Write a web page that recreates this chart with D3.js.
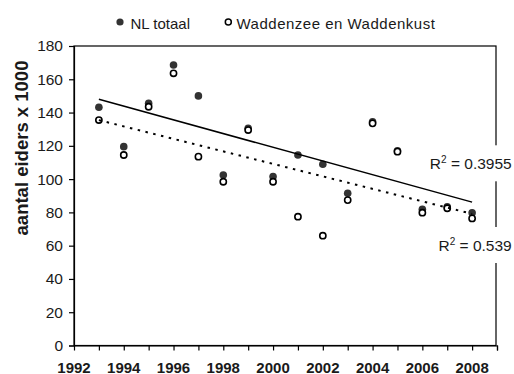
<!DOCTYPE html>
<html>
<head>
<meta charset="utf-8">
<script src="https://cdn.jsdelivr.net/npm/d3@7/dist/d3.min.js"></script>
<style>
  html, body { margin: 0; padding: 0; background: #fff; }
  svg { display: block; font-family: "Liberation Sans", Arial, sans-serif; }
</style>
</head>
<body>
<svg id="chart" width="514" height="374"></svg>
<script>
// Eider counts (x 1000), yearly
const years = [1993, 1994, 1995, 1996, 1997, 1998, 1999, 2000, 2001, 2002, 2003, 2004, 2005, 2006, 2007, 2008];
const nlTotaal = [143.2, 119.5, 145.6, 168.6, 150.0, 102.5, 130.5, 101.5, 114.5, 108.9, 91.5, 134.5, 117.0, 81.9, 83.4, 79.8];
const waddenzee = [135.5, 114.5, 143.5, 163.6, 113.5, 98.4, 129.5, 98.4, 77.4, 66.0, 87.4, 133.5, 116.5, 79.8, 82.5, 76.4];
const seriesNames = ["NL totaal", "Waddenzee en Waddenkust"];
const yTicks = [0, 20, 40, 60, 80, 100, 120, 140, 160, 180];
const xTickLabels = [1992, 1994, 1996, 1998, 2000, 2002, 2004, 2006, 2008];
const xMinorTicks = [1993, 1994, 1995, 1996, 1997, 1998, 1999, 2000, 2001, 2002, 2003, 2004, 2005, 2006, 2007, 2008, 2009];
const r2Labels = ["0.3955", "0.539"];
const yTitle = "aantal eiders x 1000";

const svg = d3.select("#chart");
const plot = { left: 74, right: 497, top: 46, bottom: 345.5 };

const x = d3.scaleLinear().domain([1992, 2009]).range([plot.left, plot.right]);
const y = d3.scaleLinear().domain([0, 180]).range([plot.bottom, plot.top]);

const textColor = "#1a1a1a";

// Plot area frame
svg.append("rect")
  .attr("x", plot.left).attr("y", plot.top)
  .attr("width", plot.right - plot.left - 1).attr("height", plot.bottom - plot.top)
  .attr("fill", "none").attr("stroke", "#000").attr("stroke-width", 1.2);

// Y axis
const yAxis = d3.axisLeft(y).tickValues(yTicks).tickSize(5).tickPadding(6);
const gy = svg.append("g").attr("transform", `translate(${plot.left},0)`).call(yAxis);
gy.select(".domain").attr("stroke", "#000").attr("stroke-width", 1.2);
gy.selectAll(".tick line").attr("stroke", "#000").attr("stroke-width", 1.2);
gy.selectAll(".tick text")
  .attr("fill", textColor)
  .style("font-size", "15.5px")
  .style("font-family", "Liberation Sans, Arial, sans-serif");

// X axis: minor tick at each year, bold labels on even years
const xAxisTicks = d3.axisBottom(x).tickValues(xMinorTicks).tickSize(5).tickFormat("");
const gx = svg.append("g").attr("transform", `translate(0,${plot.bottom})`).call(xAxisTicks);
gx.select(".domain").attr("stroke", "#000").attr("stroke-width", 1.2);
gx.selectAll(".tick line").attr("stroke", "#000").attr("stroke-width", 1.2);

svg.append("g").selectAll("text")
  .data(xTickLabels)
  .join("text")
  .attr("x", d => x(d))
  .attr("y", 372.5)
  .attr("text-anchor", "middle")
  .attr("fill", textColor)
  .style("font-size", "15px")
  .style("font-weight", "bold")
  .text(d => d);

// Y title
svg.append("text")
  .attr("transform", "translate(28,148) rotate(-90)")
  .attr("text-anchor", "middle")
  .attr("fill", textColor)
  .style("font-size", "18.5px")
  .style("font-weight", "bold")
  .text(yTitle);

// Least-squares trend line
function linearFit(xs, ys) {
  const mx = d3.mean(xs), my = d3.mean(ys);
  const sxy = d3.sum(xs, (xv, i) => (xv - mx) * (ys[i] - my));
  const sxx = d3.sum(xs, xv => (xv - mx) * (xv - mx));
  const slope = sxy / sxx;
  return xv => my + slope * (xv - mx);
}
const fitNL = linearFit(years, nlTotaal);
const fitWad = linearFit(years, waddenzee);
const xEnds = d3.extent(years);
const line = d3.line().x(d => x(d[0])).y(d => y(d[1]));

// Markers
svg.append("g").selectAll("circle")
  .data(years.map((yr, i) => [yr, nlTotaal[i]]))
  .join("circle")
  .attr("cx", d => x(d[0])).attr("cy", d => y(d[1]))
  .attr("r", 3.8)
  .attr("fill", "#333");

svg.append("g").selectAll("circle")
  .data(years.map((yr, i) => [yr, waddenzee[i]]))
  .join("circle")
  .attr("cx", d => x(d[0])).attr("cy", d => y(d[1]))
  .attr("r", 3.1)
  .attr("fill", "#fff")
  .attr("stroke", "#000")
  .attr("stroke-width", 1.6);

// Trend lines
svg.append("path")
  .datum(xEnds.map(v => [v, fitNL(v)]))
  .attr("d", line)
  .attr("fill", "none").attr("stroke", "#000").attr("stroke-width", 1.5);

svg.append("path")
  .datum(xEnds.map(v => [v, fitWad(v)]))
  .attr("d", line)
  .attr("fill", "none").attr("stroke", "#000").attr("stroke-width", 2)
  .attr("stroke-dasharray", "2.5,5.5");

// R² labels with white background boxes
const r2Pos = [{ xr: 511.7, base: 169.3 }, { xr: 511.7, base: 251 }];
r2Labels.forEach((val, i) => {
  const g = svg.append("g");
  const bg = g.append("rect").attr("fill", "#fff");
  const t = g.append("text")
    .attr("x", r2Pos[i].xr).attr("y", r2Pos[i].base)
    .attr("text-anchor", "end")
    .attr("fill", textColor)
    .style("font-size", "15.5px");
  t.append("tspan").text("R");
  t.append("tspan").attr("dy", -6).style("font-size", "10px").text("2");
  t.append("tspan").attr("dy", 6).text(" = " + val);
  const bb = t.node().getBBox();
  bg.attr("x", bb.x - 4).attr("y", r2Pos[i].base - 24)
    .attr("width", 514 - bb.x + 4).attr("height", 36);
});

// Legend
const legend = svg.append("g");
legend.append("circle").attr("cx", 120).attr("cy", 22).attr("r", 3.6).attr("fill", "#333");
legend.append("text").attr("x", 130.5).attr("y", 28.7)
  .attr("fill", textColor).style("font-size", "15px").text(seriesNames[0]);
legend.append("circle").attr("cx", 228.3).attr("cy", 22).attr("r", 3)
  .attr("fill", "#fff").attr("stroke", "#000").attr("stroke-width", 1.5);
legend.append("text").attr("x", 236.5).attr("y", 28.7)
  .attr("fill", textColor).style("font-size", "15px").style("letter-spacing", "0.5px").text(seriesNames[1]);
</script>
</body>
</html>
